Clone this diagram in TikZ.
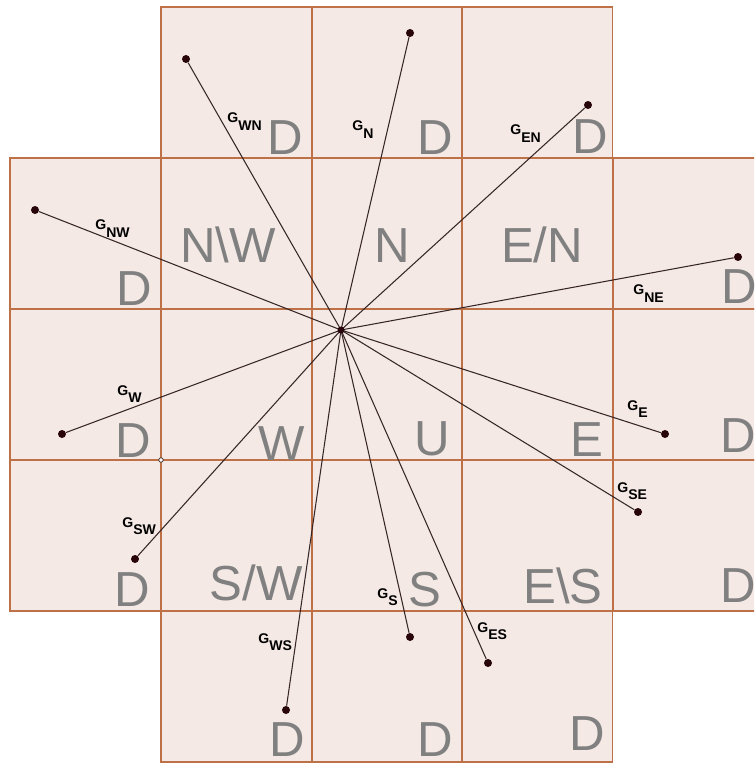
\documentclass[tikz,border=0pt]{standalone}
\usepackage{fontspec}
\setmainfont{Liberation Sans}
\definecolor{cellfill}{RGB}{244,233,229}
\definecolor{cellline}{RGB}{190,112,70}
\definecolor{raycol}{RGB}{55,38,38}
\definecolor{dotcol}{RGB}{40,5,10}
\definecolor{bigcol}{RGB}{128,128,128}
\newcommand{\glab}[1]{G\raisebox{-4.4pt}{#1}}

\begin{document}
\begin{tikzpicture}[x=0.02cm, y=-0.02cm,
  cell/.style={fill=cellfill, draw=cellline, line width=0.75pt},
  big/.style={inner sep=0pt, anchor=base, text=bigcol, font=\fontsize{28}{28}\selectfont},
  glabel/.style={inner sep=0pt, anchor=base west, font=\fontsize{8}{8}\selectfont\bfseries},
  ray/.style={draw=raycol, line width=0.6pt},
  pt/.style={circle, fill=dotcol, inner sep=0pt, minimum size=0.16cm},
  hollow/.style={circle, draw=raycol, fill=white, inner sep=0pt, minimum size=0.09cm, line width=0.4pt}
]
  \useasboundingbox (0,0) rectangle (754,763);
  \clip (0,0) rectangle (754,763);

  % cells
  \foreach \cx/\cy in {161/7, 312/7, 462/7,
                       10/158, 161/158, 312/158, 462/158, 613/158,
                       10/309, 161/309, 312/309, 462/309, 613/309,
                       10/460, 161/460, 312/460, 462/460, 613/460,
                       161/611, 312/611, 462/611}
    \draw[cell] (\cx,\cy) rectangle ++(150.5,151);

  % cell letters
  \node[big] (dTa) at (285,155) {D};
  \node[big] (dTb) at (435,155) {D};
  \node[big] (dTc) at (590,154) {D};
  \node[big] (nw)  at (228,262) {N\textbackslash W};
  \node[big] (n)   at (392,262) {N};
  \node[big] (en)  at (542,262) {E/N};
  \node[big] (dLa) at (134,305) {D};
  \node[big] (dRa) at (739,303) {D};
  \node[big] (dLb) at (133,457) {D};
  \node[big] (w)   at (282,460) {W};
  \node[big] (u)   at (432,455) {U};
  \node[big] (e)   at (587,456) {E};
  \node[big] (dRb) at (738,452) {D};
  \node[big] (dLc) at (132,606) {D};
  \node[big] (sw)  at (256,600) {S/W};
  \node[big] (s)   at (425,606) {S};
  \node[big] (es)  at (563,603) {E\textbackslash S};
  \node[big] (dRc) at (738,602) {D};
  \node[big] (dBa) at (287,756) {D};
  \node[big] (dBb) at (435,756) {D};
  \node[big] (dBc) at (587,750) {D};

  % rays from the centre
  \coordinate (c) at (341,330);
  \foreach \k/\px/\py in {WN/186/59, N/410/33, EN/588/105, NW/35/210,
                          NE/738/257, W/62/434, E/665/434, SW/135/559,
                          SE/638/512, WS/286/710, S/410/637, ES/488/663}{
    \node[pt] (p\k) at (\px,\py) {};
    \draw[ray] (c) -- (p\k);
  }
  \node[pt, minimum size=0.14cm] (pc) at (c) {};
  \node[hollow] (q) at (161,460) {};

  % labels
  \node[glabel] (gWN) at (227,123) {\glab{WN}};
  \node[glabel] (gN)  at (352,131) {\glab{N}};
  \node[glabel] (gEN) at (510,135) {\glab{EN}};
  \node[glabel] (gNW) at (95,230)  {\glab{NW}};
  \node[glabel] (gNE) at (633,295) {\glab{NE}};
  \node[glabel] (gW)  at (117,395) {\glab{W}};
  \node[glabel] (gE)  at (627,410) {\glab{E}};
  \node[glabel] (gSW) at (122,527) {\glab{SW}};
  \node[glabel] (gSE) at (617,492) {\glab{SE}};
  \node[glabel] (gWS) at (258,643) {\glab{WS}};
  \node[glabel] (gS)  at (377,598) {\glab{S}};
  \node[glabel] (gES) at (477,632) {\glab{ES}};
\end{tikzpicture}
\end{document}
